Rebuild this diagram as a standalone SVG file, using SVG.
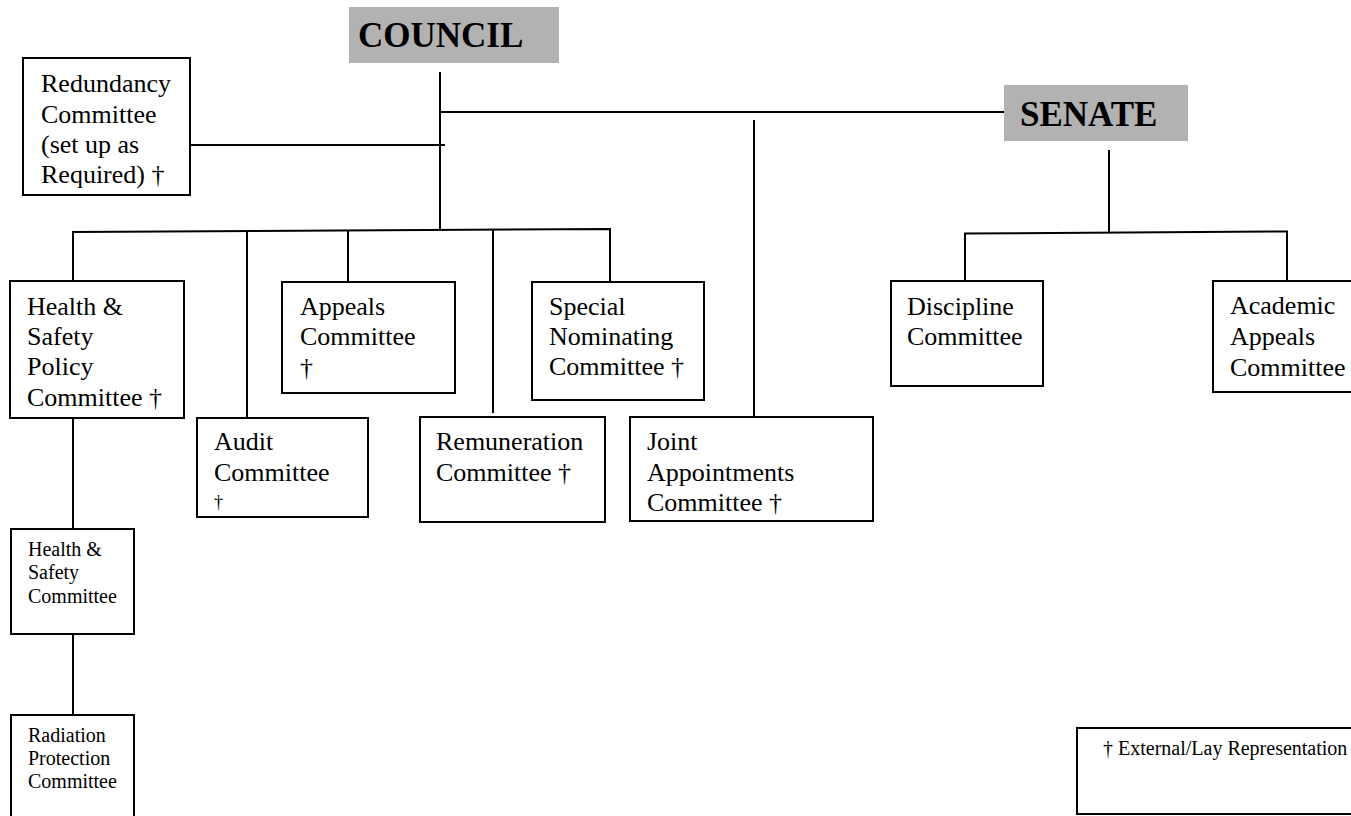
<svg xmlns="http://www.w3.org/2000/svg" width="1351" height="816" viewBox="0 0 1351 816">
<style>
  .box{fill:#ffffff;stroke:#000000;stroke-width:2}
  .head{fill:#b2b2b2;stroke:none}
  text{font-family:"Liberation Serif","Times New Roman",serif;fill:#000000}
  .t{font-size:26px}
  .s{font-size:20px}
  .h{font-size:35px;font-weight:bold}
  .c{fill:none;stroke:#000000;stroke-width:2}
</style>
<rect x="0" y="0" width="1351" height="816" fill="#ffffff"/>
<g id="connectors">
  <line class="c" x1="440" y1="72" x2="440" y2="231"/>
  <line class="c" x1="184" y1="145" x2="445" y2="145"/>
  <line class="c" x1="440" y1="112" x2="1004" y2="112"/>
  <polyline class="c" points="73,281 73,232 610,229 610,282"/>
  <line class="c" x1="247" y1="231" x2="247" y2="418"/>
  <line class="c" x1="348" y1="230.5" x2="348" y2="282"/>
  <line class="c" x1="493" y1="230" x2="493" y2="413"/>
  <line class="c" x1="754" y1="120" x2="754" y2="417"/>
  <line class="c" x1="1109" y1="150" x2="1109" y2="232"/>
  <polyline class="c" points="965,281 965,233.5 1287,231.5 1287,281"/>
  <line class="c" x1="73" y1="418" x2="73" y2="529"/>
  <line class="c" x1="73" y1="628" x2="73" y2="715"/>
</g>
<g id="council">
  <rect class="head" x="349" y="7" width="210" height="56"/>
  <text class="h" x="358" y="47">COUNCIL</text>
</g>
<g id="senate">
  <rect class="head" x="1004" y="85" width="184" height="56"/>
  <text class="h" x="1020" y="126">SENATE</text>
</g>
<g id="redundancy">
  <rect class="box" x="23" y="58" width="167" height="137"/>
  <text class="t" x="41" y="92">Redundancy</text>
  <text class="t" x="41" y="123">Committee</text>
  <text class="t" x="41" y="153">(set up as</text>
  <text class="t" x="41" y="183">Required) †</text>
</g>
<g id="hs-policy">
  <rect class="box" x="10" y="281" width="174" height="137"/>
  <text class="t" x="27" y="315">Health &amp;</text>
  <text class="t" x="27" y="345">Safety</text>
  <text class="t" x="27" y="375">Policy</text>
  <text class="t" x="27" y="406">Committee †</text>
</g>
<g id="audit">
  <rect class="box" x="197" y="418" width="171" height="99"/>
  <text class="t" x="214" y="450">Audit</text>
  <text class="t" x="214" y="481">Committee</text>
  <text class="t" x="214" y="508" style="font-size:18px">†</text>
</g>
<g id="appeals">
  <rect class="box" x="282" y="282" width="173" height="111"/>
  <text class="t" x="300" y="315">Appeals</text>
  <text class="t" x="300" y="345">Committee</text>
  <text class="t" x="300" y="376">†</text>
</g>
<g id="remuneration">
  <rect class="box" x="420" y="417" width="185" height="105"/>
  <text class="t" x="436" y="450">Remuneration</text>
  <text class="t" x="436" y="481">Committee †</text>
</g>
<g id="special-nominating">
  <rect class="box" x="532" y="282" width="172" height="118"/>
  <text class="t" x="549" y="315">Special</text>
  <text class="t" x="549" y="345">Nominating</text>
  <text class="t" x="549" y="375">Committee †</text>
</g>
<g id="joint-appointments">
  <rect class="box" x="630" y="417" width="243" height="104"/>
  <text class="t" x="647" y="450">Joint</text>
  <text class="t" x="647" y="481">Appointments</text>
  <text class="t" x="647" y="511">Committee †</text>
</g>
<g id="discipline">
  <rect class="box" x="891" y="281" width="152" height="105"/>
  <text class="t" x="907" y="315">Discipline</text>
  <text class="t" x="907" y="345">Committee</text>
</g>
<g id="academic-appeals">
  <rect class="box" x="1213" y="281" width="160" height="111"/>
  <text class="t" x="1230" y="314">Academic</text>
  <text class="t" x="1230" y="345">Appeals</text>
  <text class="t" x="1230" y="376">Committee</text>
</g>
<g id="hs-committee">
  <rect class="box" x="11" y="529" width="123" height="105"/>
  <text class="s" x="28" y="556">Health &amp;</text>
  <text class="s" x="28" y="579">Safety</text>
  <text class="s" x="28" y="603">Committee</text>
</g>
<g id="radiation">
  <rect class="box" x="11" y="715" width="123" height="120"/>
  <text class="s" x="28" y="742">Radiation</text>
  <text class="s" x="28" y="765">Protection</text>
  <text class="s" x="28" y="788">Committee</text>
</g>
<g id="legend">
  <rect class="box" x="1077" y="728" width="290" height="86"/>
  <text class="s" x="1103" y="755">† External/Lay Representation</text>
</g>
</svg>
